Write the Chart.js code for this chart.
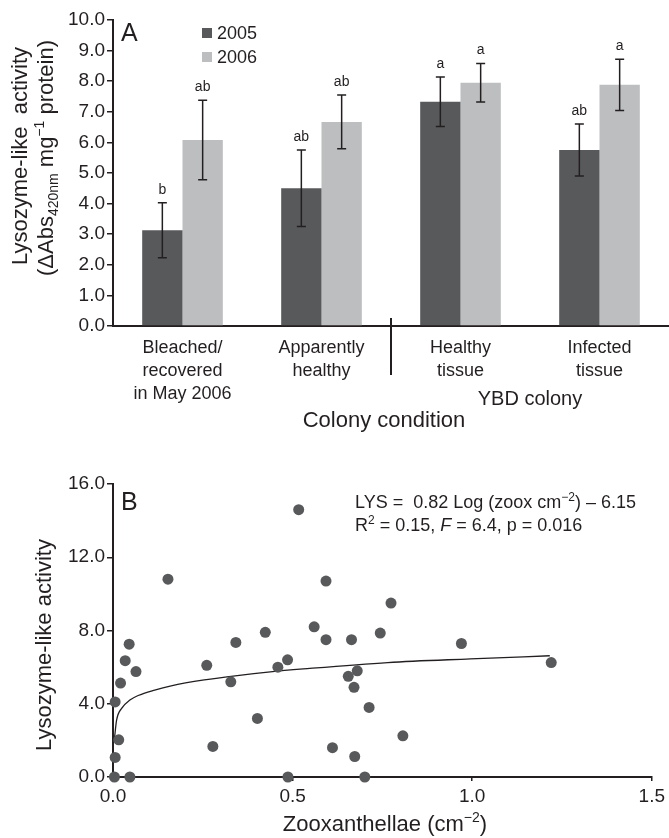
<!DOCTYPE html>
<html lang="en">
<head>
<meta charset="UTF-8">
<title>Lysozyme-like activity</title>
<script src="https://cdn.jsdelivr.net/npm/chart.js"></script>
<style>
  html, body { margin: 0; padding: 0; background: #fff; }
  #wrap { position: relative; width: 669px; height: 838px; }
  canvas { position: absolute; left: 0; }
</style>
</head>
<body>
<div id="wrap">
  <canvas id="barChart" width="669" height="440" style="top:0"></canvas>
  <canvas id="scatterChart" width="669" height="398" style="top:440px"></canvas>
</div>
<script>
// Panel A: lysozyme-like activity by colony condition
const conditions = [['Bleached/', 'recovered', 'in May 2006'], ['Apparently', 'healthy'], ['Healthy', 'tissue'], ['Infected', 'tissue']];
const years = ['2005', '2006'];
const mean2005 = [3.13, 4.50, 7.33, 5.75];
const mean2006 = [6.08, 6.67, 7.95, 7.88];
const err2005 = [0.90, 1.25, 0.81, 0.85];
const err2006 = [1.30, 0.88, 0.63, 0.84];
const letters2005 = ['b', 'ab', 'a', 'ab'];
const letters2006 = ['ab', 'ab', 'a', 'a'];

// Panel B: lysozyme-like activity vs zooxanthellae
const zooxX = [0.517, 0.153, 0.593, 0.560, 0.424, 0.593, 0.342, 0.045, 0.034, 0.486, 0.261, 0.459,
               0.064, 0.021, 0.328, 0.006, 0.402, 0.016, 0.278, 0.611, 0.006, 0.004, 0.047, 0.487,
               0.774, 0.664, 0.744, 0.970, 1.220, 0.680, 0.655, 0.671, 0.713, 0.807, 0.673, 0.701];
const lysY  = [14.6, 10.8, 10.7, 8.2, 7.9, 7.5, 7.35, 7.25, 6.35, 6.4, 6.1, 6.0,
               5.76, 5.13, 5.2, 4.1, 3.2, 2.03, 1.67, 1.6, 1.07, 0.0, 0.0, 0.0,
               9.5, 7.5, 7.86, 7.29, 6.25, 5.8, 5.5, 4.9, 3.8, 2.25, 1.12, 0.0];
const fitX = [0.004, 0.010, 0.024, 0.047, 0.070, 0.116, 0.162, 0.254, 0.346, 0.438, 0.530, 0.765, 0.995, 1.216];
const fitY = [2.10, 3.10, 3.75, 4.20, 4.45, 4.75, 4.98, 5.30, 5.54, 5.74, 5.90, 6.25, 6.45, 6.62];

const INK = '#231f20';
const DARK = '#58595b';
const LIGHT = '#bcbec0';
const FONT = '"Liberation Sans", Arial, Helvetica, sans-serif';

Chart.defaults.font.family = FONT;
Chart.defaults.color = INK;
Chart.defaults.animation = false;

// draw a list of text runs (with sub/superscripts) centred on x,y
function drawRuns(ctx, runs, x, y, rotate, align) {
    ctx.save();
    ctx.translate(x, y);
    if (rotate) ctx.rotate(-Math.PI / 2);
    let total = 0;
    runs.forEach(r => {
        ctx.font = (r.italic ? 'italic ' : '') + r.size + 'px ' + FONT;
        r.w = ctx.measureText(r.t).width;
        total += r.w;
    });
    let cx = align === 'left' ? 0 : -total / 2;
    ctx.fillStyle = INK;
    ctx.textBaseline = 'alphabetic';
    ctx.textAlign = 'left';
    runs.forEach(r => {
        ctx.font = (r.italic ? 'italic ' : '') + r.size + 'px ' + FONT;
        ctx.fillText(r.t, cx, (r.dy || 0) + 7);
        cx += r.w;
    });
    ctx.restore();
}

const panelA = {
    id: 'panelA',
    afterDatasetsDraw(chart) {
        const ctx = chart.ctx;
        const y = chart.scales.y;
        const sets = [[mean2005, err2005, letters2005], [mean2006, err2006, letters2006]];
        ctx.save();
        sets.forEach((s, i) => {
            const meta = chart.getDatasetMeta(i);
            meta.data.forEach((bar, j) => {
                const top = y.getPixelForValue(s[0][j] + s[1][j]);
                const bot = y.getPixelForValue(s[0][j] - s[1][j]);
                ctx.strokeStyle = INK;
                ctx.lineWidth = 1.5;
                ctx.beginPath();
                ctx.moveTo(bar.x, top); ctx.lineTo(bar.x, bot);
                ctx.moveTo(bar.x - 4.5, top); ctx.lineTo(bar.x + 4.5, top);
                ctx.moveTo(bar.x - 4.5, bot); ctx.lineTo(bar.x + 4.5, bot);
                ctx.stroke();
                ctx.fillStyle = INK;
                ctx.font = '14px ' + FONT;
                ctx.textAlign = 'center';
                ctx.textBaseline = 'alphabetic';
                ctx.fillText(s[2][j], bar.x, top - 9);
            });
        });
        ctx.restore();
    },
    afterDraw(chart) {
        const ctx = chart.ctx;
        const area = chart.chartArea;
        ctx.save();
        // panel letter
        ctx.fillStyle = INK;
        ctx.font = '25px ' + FONT;
        ctx.textBaseline = 'middle';
        ctx.textAlign = 'left';
        ctx.fillText('A', 121, 34);
        // legend
        [DARK, LIGHT].forEach((c, i) => {
            ctx.fillStyle = c;
            ctx.fillRect(202, 28 + i * 24, 10, 10);
            ctx.fillStyle = INK;
            ctx.font = '18px ' + FONT;
            ctx.fillText(years[i], 217, 34 + i * 24);
        });
        // divider between colony groups
        const xs = chart.scales.x;
        const mid = (xs.getPixelForValue(1) + xs.getPixelForValue(2)) / 2;
        ctx.strokeStyle = INK;
        ctx.lineWidth = 2;
        ctx.beginPath();
        ctx.moveTo(mid, area.bottom - 8);
        ctx.lineTo(mid, area.bottom + 49);
        ctx.stroke();
        ctx.restore();
        const ybd = (xs.getPixelForValue(2) + xs.getPixelForValue(3)) / 2;
        drawRuns(ctx, [{ t: 'YBD colony', size: 20 }], ybd, 398);
        drawRuns(ctx, [{ t: 'Colony condition', size: 22 }], 384, 420);
        // y axis title (two lines)
        drawRuns(ctx, [{ t: 'Lysozyme-like  activity', size: 22 }], 20, 156, true);
        drawRuns(ctx, [
            { t: '(\u0394Abs', size: 22 },
            { t: '420nm', size: 14, dy: 5 },
            { t: ' mg', size: 22 },
            { t: '\u22121', size: 14, dy: -9 },
            { t: ' protein)', size: 22 }
        ], 46, 158, true);
    }
};

new Chart(document.getElementById('barChart'), {
    type: 'bar',
    data: {
        labels: conditions,
        datasets: [
            { label: years[0], data: mean2005, backgroundColor: DARK },
            { label: years[1], data: mean2006, backgroundColor: LIGHT }
        ]
    },
    options: {
        responsive: false,
        devicePixelRatio: 1,
        layout: { padding: { top: 20, right: 0, bottom: 0, left: 0 } },
        datasets: { bar: { barPercentage: 1, categoryPercentage: 0.58 } },
        plugins: { legend: { display: false }, tooltip: { enabled: false } },
        scales: {
            x: {
                grid: { display: false },
                border: { color: INK, width: 2 },
                ticks: { font: { size: 18, lineHeight: 1.27 }, color: INK, padding: 3, maxRotation: 0 },
                afterFit: s => { s.height = 114; }
            },
            y: {
                min: 0, max: 10,
                ticks: { stepSize: 1, font: { size: 19 }, color: INK, padding: 2, callback: v => v.toFixed(1) },
                grid: { drawOnChartArea: false, tickLength: 6, color: INK, lineWidth: 1.5 },
                border: { color: INK, width: 2 },
                afterFit: s => { s.width = 113; }
            }
        }
    },
    plugins: [panelA]
});

const panelB = {
    id: 'panelB',
    afterDraw(chart) {
        const ctx = chart.ctx;
        ctx.save();
        ctx.fillStyle = INK;
        ctx.font = '25px ' + FONT;
        ctx.textBaseline = 'middle';
        ctx.textAlign = 'left';
        ctx.fillText('B', 121, 63);
        ctx.restore();
        drawRuns(ctx, [
            { t: 'LYS =  0.82 Log (zoox cm', size: 18 },
            { t: '\u22122', size: 12, dy: -7 },
            { t: ') \u2013 6.15', size: 18 }
        ], 355, 61, false, 'left');
        drawRuns(ctx, [
            { t: 'R', size: 18 },
            { t: '2', size: 12, dy: -7 },
            { t: ' = 0.15, ', size: 18 },
            { t: 'F', size: 18, italic: true },
            { t: ' = 6.4, p = 0.016', size: 18 }
        ], 355, 84, false, 'left');
        drawRuns(ctx, [{ t: 'Lysozyme-like activity', size: 22 }], 44, 205, true);
        drawRuns(ctx, [
            { t: 'Zooxanthellae (cm', size: 22 },
            { t: '\u22122', size: 14, dy: -9 },
            { t: ')', size: 22 }
        ], 385, 384);
    }
};

new Chart(document.getElementById('scatterChart'), {
    type: 'scatter',
    data: {
        datasets: [
            {
                data: zooxX.map((x, i) => ({ x, y: lysY[i] })),
                backgroundColor: DARK, borderColor: DARK,
                pointRadius: 5.5, pointBorderWidth: 0, clip: false
            },
            {
                type: 'line',
                data: fitX.map((x, i) => ({ x, y: fitY[i] })),
                borderColor: INK, borderWidth: 1.3, pointRadius: 0,
                cubicInterpolationMode: 'monotone', fill: false
            }
        ]
    },
    options: {
        responsive: false,
        devicePixelRatio: 1,
        layout: { padding: { top: 44, right: 13, bottom: 0, left: 0 } },
        plugins: { legend: { display: false }, tooltip: { enabled: false } },
        scales: {
            x: {
                type: 'linear', min: 0, max: 1.5,
                ticks: { stepSize: 0.5, font: { size: 19 }, color: INK, padding: 4, callback: v => v.toFixed(1) },
                grid: { drawOnChartArea: false, tickLength: 4, color: INK, lineWidth: 1.5 },
                border: { color: INK, width: 2 },
                afterFit: s => { s.height = 61; }
            },
            y: {
                min: 0, max: 16,
                ticks: { stepSize: 4, font: { size: 19 }, color: INK, padding: 2, callback: v => v.toFixed(1) },
                grid: { drawOnChartArea: false, tickLength: 6, color: INK, lineWidth: 1.5 },
                border: { color: INK, width: 2 },
                afterFit: s => { s.width = 113; }
            }
        }
    },
    plugins: [panelB]
});
</script>
</body>
</html>
